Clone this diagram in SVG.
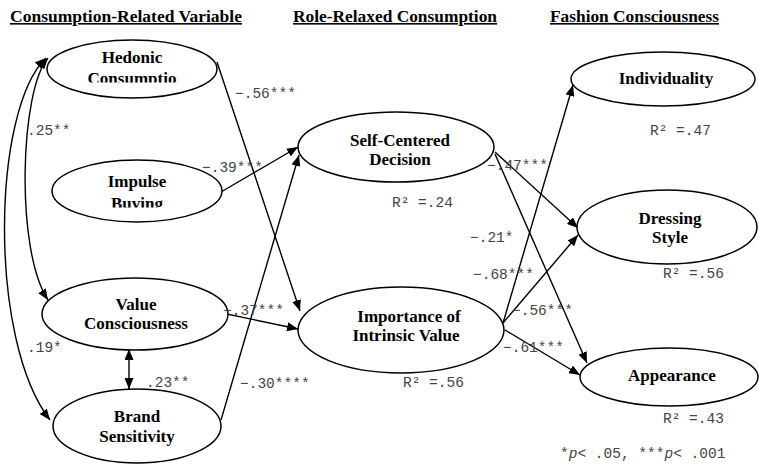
<svg xmlns="http://www.w3.org/2000/svg" width="759" height="464" viewBox="0 0 759 464">
<style>
.node ellipse{fill:#fff;stroke:#000;stroke-width:1.5}
.lbl{font-family:"Liberation Serif","Times New Roman",serif;font-weight:bold;font-size:17px;fill:#000;text-anchor:middle}
.hdr{font-family:"Liberation Serif","Times New Roman",serif;font-weight:bold;font-size:16px;fill:#000;text-decoration:underline}
.coef{font-family:"Liberation Mono","Courier New",monospace;font-size:14.5px;fill:#444}
.conn path,.conn line{fill:none;stroke:#000;stroke-width:1.4}
</style>
<defs>
<marker id="ah" markerUnits="userSpaceOnUse" markerWidth="11" markerHeight="9" refX="11" refY="4.5" orient="auto-start-reverse">
<path d="M0,0 L11,4.5 L0,9 z" fill="#000"/>
</marker>
<clipPath id="clipH"><rect x="0" y="0" width="260" height="82.5"/></clipPath>
<clipPath id="clipI"><rect x="0" y="150" width="260" height="57.5"/></clipPath>
</defs>
<rect width="759" height="464" fill="#fff"/>

<g id="headers">
<text class="hdr" x="10" y="22" textLength="232" lengthAdjust="spacingAndGlyphs">Consumption-Related Variable</text>
<text class="hdr" x="293" y="22" textLength="204" lengthAdjust="spacingAndGlyphs">Role-Relaxed Consumption</text>
<text class="hdr" x="550" y="22" textLength="169" lengthAdjust="spacingAndGlyphs">Fashion Consciousness</text>
</g>

<g id="connectors" class="conn">
<path d="M46 58 C-8 110,-12 340,50 420" marker-start="url(#ah)" marker-end="url(#ah)"/>
<path d="M48 58 C20 90,15 250,48 300" marker-start="url(#ah)" marker-end="url(#ah)"/>
<line x1="129" y1="349" x2="129" y2="389" marker-start="url(#ah)" marker-end="url(#ah)"/>
<line x1="217" y1="62" x2="300" y2="311" marker-end="url(#ah)"/>
<line x1="221" y1="192" x2="298" y2="147" marker-end="url(#ah)"/>
<line x1="222" y1="313" x2="298" y2="329" marker-end="url(#ah)"/>
<line x1="221" y1="420" x2="299" y2="155" marker-end="url(#ah)"/>
<line x1="495" y1="152" x2="578" y2="228" marker-end="url(#ah)"/>
<line x1="495" y1="154" x2="587" y2="363" marker-end="url(#ah)"/>
<line x1="503" y1="323" x2="573" y2="85" marker-end="url(#ah)"/>
<line x1="503" y1="323" x2="578" y2="235" marker-end="url(#ah)"/>
<line x1="505" y1="330" x2="580" y2="375" marker-end="url(#ah)"/>
</g>

<g id="hedonic" class="node">
<ellipse cx="132" cy="69" rx="85" ry="29"/>
<text class="lbl" x="132" y="63">Hedonic</text>
<text class="lbl" x="132" y="84" clip-path="url(#clipH)">Consumptio</text>
</g>
<g id="impulse" class="node">
<ellipse cx="137" cy="191" rx="85" ry="31"/>
<text class="lbl" x="137" y="187">Impulse</text>
<text class="lbl" x="137" y="208.5" clip-path="url(#clipI)">Buving</text>
</g>
<g id="value" class="node">
<ellipse cx="135" cy="314" rx="93" ry="36"/>
<text class="lbl" x="136" y="310">Value</text>
<text class="lbl" x="136" y="329">Consciousness</text>
</g>
<g id="brand" class="node">
<ellipse cx="137" cy="426" rx="84" ry="37"/>
<text class="lbl" x="137" y="422">Brand</text>
<text class="lbl" x="137" y="442">Sensitivity</text>
</g>
<g id="selfcentered" class="node">
<ellipse cx="396" cy="147" rx="98" ry="35"/>
<text class="lbl" x="400" y="146">Self-Centered</text>
<text class="lbl" x="400" y="165">Decision</text>
</g>
<g id="importance" class="node">
<ellipse cx="401" cy="330" rx="103" ry="43"/>
<text class="lbl" x="409" y="322">Importance of</text>
<text class="lbl" x="406" y="341">Intrinsic Value</text>
</g>
<g id="individuality" class="node">
<ellipse cx="663" cy="79" rx="92" ry="27"/>
<text class="lbl" x="666" y="84">Individuality</text>
</g>
<g id="dressing" class="node">
<ellipse cx="667" cy="227" rx="90" ry="37"/>
<text class="lbl" x="670" y="224">Dressing</text>
<text class="lbl" x="670" y="243">Style</text>
</g>
<g id="appearance" class="node">
<ellipse cx="669" cy="377" rx="89" ry="29"/>
<text class="lbl" x="672" y="381">Appearance</text>
</g>

<g id="labels">
<text class="coef" x="27" y="135">.25**</text>
<text class="coef" x="27" y="352">.19*</text>
<text class="coef" x="146" y="387">.23**</text>
<text class="coef" x="235" y="98">−.56***</text>
<text class="coef" x="202" y="172">−.39***</text>
<text class="coef" x="223" y="315">−.37***</text>
<text class="coef" x="240" y="388">−.30****</text>
<text class="coef" x="487" y="170">−.47***</text>
<text class="coef" x="470" y="242">−.21*</text>
<text class="coef" x="473" y="279">−.68***</text>
<text class="coef" x="512" y="315">−.56***</text>
<text class="coef" x="503" y="352">−.61***</text>
<text class="coef" x="392" y="207">R² =.24</text>
<text class="coef" x="403" y="387">R² =.56</text>
<text class="coef" x="650" y="135">R² =.47</text>
<text class="coef" x="663" y="278">R² =.56</text>
<text class="coef" x="663" y="423">R² =.43</text>
<text class="coef" x="560" y="458">*<tspan font-style="italic">p</tspan>&lt; .05, ***<tspan font-style="italic">p</tspan>&lt; .001</text>
</g>
</svg>
